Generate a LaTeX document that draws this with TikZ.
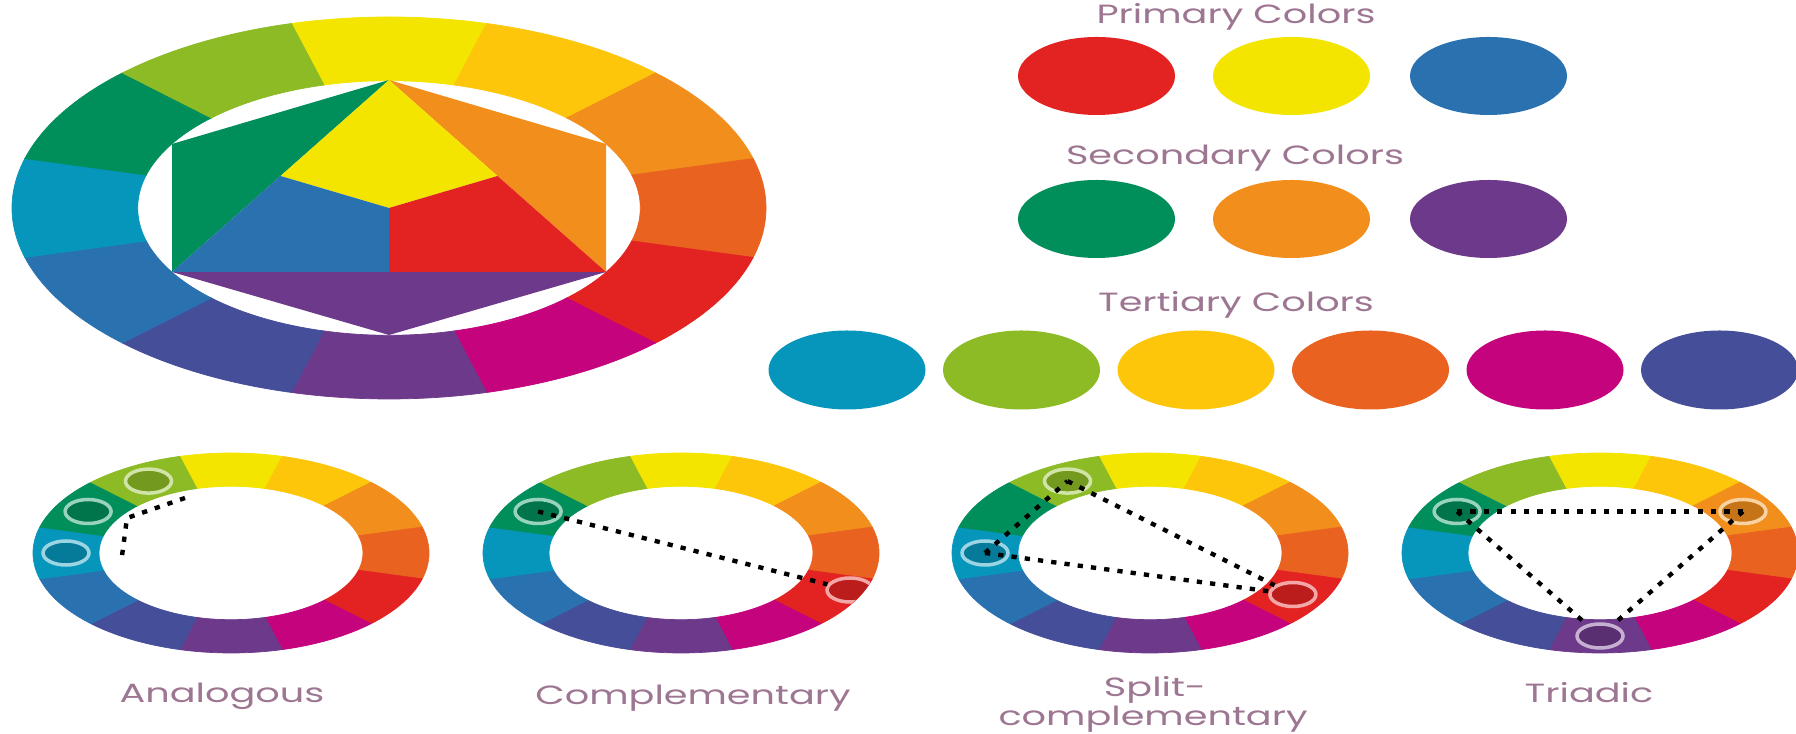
\documentclass[tikz,border=0pt]{standalone}
\usepackage{fontspec}
\newfontfamily\labelfont[FakeStretch=1.45]{Poppins}
\usetikzlibrary{shapes.geometric}
\definecolor{CYel}{HTML}{F4E500}
\definecolor{CYelOr}{HTML}{FDC60B}
\definecolor{COr}{HTML}{F18E1C}
\definecolor{CRedOr}{HTML}{EA621F}
\definecolor{CRed}{HTML}{E32322}
\definecolor{CRedVi}{HTML}{C4037D}
\definecolor{CVi}{HTML}{6D398B}
\definecolor{CBlueVi}{HTML}{444E99}
\definecolor{CBlue}{HTML}{2A71B0}
\definecolor{CBlueGr}{HTML}{0696BB}
\definecolor{CGr}{HTML}{008E5B}
\definecolor{CYelGr}{HTML}{8CBB26}
\definecolor{TitleMauve}{RGB}{157,118,146}
\tikzset{
	swatch/.style={ellipse, minimum width=1.57cm, minimum height=0.78cm, inner sep=0pt, fill=#1},
	pick/.style={ellipse, minimum width=0.46cm, minimum height=0.24cm, inner sep=0pt,
		line width=1pt, draw=#1!40!white, fill=#1!82!black},
	link/.style={black, line width=1.25pt, dash pattern=on 1.5pt off 2.3pt},
	heading/.style={TitleMauve, font=\labelfont\fontsize{7.5}{9}\selectfont, anchor=base, inner sep=0pt},
}

\begin{document}
\begin{tikzpicture}
	\useasboundingbox (0,0) rectangle (17.96,7.34);
	
	% Colour rings (big wheel and the four small ones)
	\foreach \cx/\cy/\rx/\ry/\rxi/\ryi in {3.89/5.26/3.77/1.91/2.513/1.273, 2.31/1.81/1.98/1.00/1.32/0.667,
		6.81/1.81/1.98/1.00/1.32/0.667, 11.50/1.81/1.98/1.00/1.32/0.667, 16.00/1.81/1.98/1.00/1.32/0.667}{
		\begin{scope}[shift={(\cx,\cy)}]
			\foreach \a/\c in {75/CYel, 45/CYelOr, 15/COr, -15/CRedOr, -45/CRed, -75/CRedVi,
				-105/CVi, -135/CBlueVi, -165/CBlue, -195/CBlueGr, -225/CGr, -255/CYelGr}{
				\fill[\c, draw=\c, line width=0.2pt] (\a:\rx cm and \ry cm)
					arc[start angle=\a, end angle=\a+30, x radius=\rx cm, y radius=\ry cm]
					-- (\a+30:\rxi cm and \ryi cm)
					arc[start angle=\a+30, end angle=\a, x radius=\rxi cm, y radius=\ryi cm] -- cycle;
			}
		\end{scope}
	}
	
	% Hexagon with the primary triangle
	\begin{scope}[shift={(3.89,5.26)}]
		\fill[CGr] (0,1.28) -- (-2.17,0.64) -- (-2.17,-0.64) -- cycle;
		\fill[COr] (0,1.28) -- (2.17,0.64) -- (2.17,-0.64) -- cycle;
		\fill[CVi] (-2.17,-0.64) -- (0,-1.27) -- (2.17,-0.64) -- cycle;
		\fill[CYel] (0,1.28) -- (-1.085,0.32) -- (0,0) -- (1.085,0.32) -- cycle;
		\fill[CBlue] (-2.17,-0.64) -- (-1.085,0.32) -- (0,0) -- (0,-0.64) -- cycle;
		\fill[CRed] (2.17,-0.64) -- (1.085,0.32) -- (0,0) -- (0,-0.64) -- cycle;
	\end{scope}
	
	% Swatches
	\node[heading] (primtitle) at (12.36,7.10) {Primary Colors};
	\foreach \x/\c [count=\i] in {10.965/CRed, 12.915/CYel, 14.885/CBlue}
		\node[swatch=\c] (prim\i) at (\x,6.58) {};
	
	\node[heading] (sectitle) at (12.35,5.69) {Secondary Colors};
	\foreach \x/\c [count=\i] in {10.965/CGr, 12.915/COr, 14.885/CVi}
		\node[swatch=\c] (sec\i) at (\x,5.15) {};
	
	\node[heading] (tertitle) at (12.36,4.22) {Tertiary Colors};
	\foreach \x/\c [count=\i] in {8.47/CBlueGr, 10.215/CYelGr, 11.96/CYelOr, 13.705/CRedOr, 15.45/CRedVi, 17.195/CBlueVi}
		\node[swatch=\c, minimum height=0.79cm] (ter\i) at (\x,3.64) {};
	
	% Analogous
	\begin{scope}[shift={(2.31,1.81)}]
		\node[pick=CYelGr] (ana-yg) at (120:1.65 and 0.83) {};
		\node[pick=CGr] (ana-g) at (150:1.65 and 0.83) {};
		\node[pick=CBlueGr] (ana-bg) at (180:1.65 and 0.83) {};
		\coordinate (ana-p1) at (-0.46,0.55);
		\coordinate (ana-p2) at (-1.04,0.35);
		\coordinate (ana-p3) at (-1.09,-0.03);
		\draw[link] (ana-p1) -- (ana-p2) -- (ana-p3);
	\end{scope}
	
	% Complementary
	\begin{scope}[shift={(6.81,1.81)}]
		\node[pick=CGr] (comp-g) at (150:1.65 and 0.83) {};
		\begin{scope}
			\clip (0,0) ellipse [x radius=1.98, y radius=1.00];
			\node[pick=CRed] (comp-r) at (-24:1.85 and 0.91) {};
		\end{scope}
		\draw[link] (comp-g.center) -- (comp-r);
	\end{scope}
	
	% Split-complementary
	\begin{scope}[shift={(11.50,1.81)}]
		\node[pick=CYelGr] (split-yg) at (120:1.65 and 0.83) {};
		\node[pick=CBlueGr] (split-bg) at (180:1.65 and 0.83) {};
		\node[pick=CRed] (split-r) at (-30:1.65 and 0.83) {};
		\draw[link] (split-yg.center) -- (split-r);
		\draw[link] (split-bg.center) -- (split-r);
		\draw[link] (split-bg.center) -- (split-yg.center);
	\end{scope}
	
	% Triadic
	\begin{scope}[shift={(16.00,1.81)}]
		\node[pick=CGr] (tri-g) at (150:1.65 and 0.83) {};
		\node[pick=COr] (tri-o) at (30:1.65 and 0.83) {};
		\node[pick=CVi] (tri-v) at (-90:1.65 and 0.83) {};
		\draw[link] (tri-g.center) -- (tri-o.center);
		\draw[link] (tri-g.center) -- (tri-v);
		\draw[link] (tri-o.center) -- (tri-v);
	\end{scope}
	
	% Scheme labels
	\node[heading] (analabel) at (2.22,0.31) {Analogous};
	\node[heading] (complabel) at (6.93,0.29) {Complementary};
	\node[heading] (splitlabel) at (11.55,0.37) {Split-};
	\node[heading] (splitlabel2) at (11.53,0.085) {complementary};
	\node[heading] (trilabel) at (15.89,0.31) {Triadic};
	
\end{tikzpicture}
\end{document}
